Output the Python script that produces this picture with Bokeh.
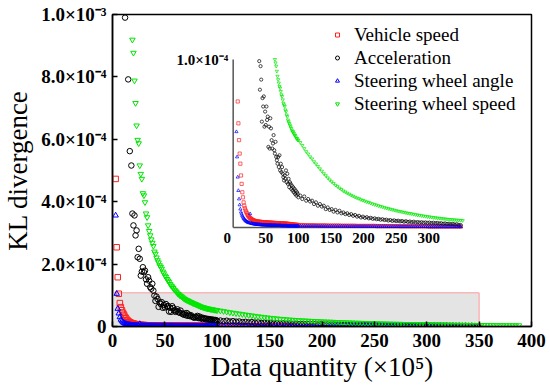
from bokeh.plotting import figure
from bokeh.models import Range1d, FixedTicker
from bokeh.core.properties import value
from bokeh.embed import file_html
from bokeh.resources import INLINE

# ---------------- data (KL divergence in units of 1e-6) ----------------
X_TICKS = [0, 50, 100, 150, 200, 250, 300, 350, 400]
Y_TICKS = [0, 0.0002, 0.0004, 0.0006, 0.0008, 0.001]
Y_TICK_LABELS = ["0", "2.0×10⁻⁴", "4.0×10⁻⁴", "6.0×10⁻⁴", "8.0×10⁻⁴", "1.0×10⁻³"]
INSET_X_TICKS = [0, 50, 100, 150, 200, 250, 300]
INSET_Y_TOP_LABEL = "1.0×10⁻⁴"
SERIES = ["Vehicle speed", "Acceleration", "Steering wheel angle", "Steering wheel speed"]

# Vehicle speed: x = 3..100 step 1, then 103.. step 3
speed_head = [473, 254, 158, 105, 75, 62, 52, 44, 38, 31,
              26, 21, 18, 15, 13, 11.5, 10.2, 9.4, 8.5, 7.6,
              7.1, 6.5, 6.0, 5.7, 5.3, 5.0, 4.8, 4.5, 4.3, 4.2,
              4.0, 3.9, 3.8, 3.7, 3.6, 3.6, 3.5, 3.5, 3.4, 3.4,
              3.3, 3.3, 3.3, 3.2, 3.2, 3.2, 3.1, 3.1, 3.1, 3.0,
              3.0, 3.0, 3.0, 2.9, 2.9, 2.9, 2.9, 2.8, 2.8, 2.8,
              2.8, 2.7, 2.7, 2.7, 2.7, 2.6, 2.6, 2.6, 2.6, 2.6,
              2.5, 2.5, 2.5, 2.5, 2.4, 2.4, 2.4, 2.4, 2.3, 2.3,
              2.3, 2.2, 2.2, 2.1, 2.1, 2.0, 2.0, 1.9, 1.9, 1.8,
              1.8, 1.7, 1.7, 1.7, 1.6, 1.6, 1.6, 1.5]
speed_tail = [1.5, 1.5, 1.5, 1.4, 1.4, 1.4, 1.4, 1.4, 1.3, 1.3,
              1.3, 1.3, 1.3, 1.3, 1.2, 1.2, 1.2, 1.2, 1.2, 1.2,
              1.2, 1.1, 1.1, 1.1, 1.1, 1.1, 1.1, 1.1, 1.1, 1.0,
              1.0, 1.0, 1.0, 1.0, 1.0, 1.0, 1.0, 1.0, 1.0, 0.9,
              0.9, 0.9, 0.9, 0.9, 0.9, 0.9, 0.9, 0.9, 0.9, 0.9,
              0.9, 0.8, 0.8, 0.8, 0.8, 0.8, 0.8, 0.8, 0.8, 0.8,
              0.8, 0.8, 0.8, 0.8, 0.8, 0.8, 0.7, 0.7, 0.7, 0.7,
              0.7, 0.7, 0.7, 0.7, 0.7, 0.7, 0.7, 0.7, 0.7, 0.7,
              0.7, 0.7, 0.7]

# Acceleration: first points at irregular x, then 19..100 step 1, then 103.. step 3
accel_first_x = [12, 15, 16.5, 18]
accel_first = [990, 792, 562, 516]
accel_head = [362, 324, 356, 292, 308, 222, 249, 217, 163, 176,
              190, 174, 179, 151, 137, 158, 147, 126, 121, 137,
              115, 99, 82, 96, 88, 63, 77, 72, 78, 60,
              69, 61, 72, 64, 66, 48, 60, 47, 65, 59,
              52, 47, 50, 55, 46, 44, 51, 42, 40, 38,
              42, 36, 43, 34, 38, 33, 36, 32, 30, 28,
              31, 29, 34, 27, 32, 26, 29, 24, 27, 26,
              23, 25, 22, 24, 21, 23, 20, 22, 19, 21,
              20, 18]
accel_tail = [19, 17, 18.5, 16, 17, 15.5, 16, 14, 15, 13,
              14, 12.5, 13, 11, 12, 10.5, 11, 9.5, 10.5, 9,
              10, 8.5, 9, 8, 8.5, 7.5, 8, 7, 7.5, 6.5,
              7, 6, 6.5, 5.8, 6.2, 5.5, 5.8, 5.2, 5.5, 5,
              5.2, 4.7, 5, 4.5, 4.7, 4.2, 4.5, 4, 4.3, 3.9,
              4.1, 3.7, 3.9, 3.5, 3.8, 3.4, 3.6, 3.2, 3.5, 3.1,
              3.3, 3, 3.2, 2.9, 3.1, 2.8, 3, 2.7, 2.9, 2.6,
              2.8, 2.5, 2.6, 2.3, 2.5, 2.2, 2.3, 2, 2.2, 1.8,
              2, 1.6, 1.5]

# Steering wheel angle: x = 3..100 step 1, then 103.. step 3
angle_head = [356, 105, 57, 42, 30, 22, 17, 13.5, 11, 9.2,
              8.0, 7.0, 6.2, 5.5, 5.0, 4.5, 4.1, 3.8, 3.5, 3.3,
              3.1, 2.9, 2.8, 8.2, 2.6, 2.5, 2.4, 2.3, 2.2, 2.2,
              2.1, 2.0, 2.0, 1.9, 1.9, 1.8, 1.8, 1.8, 1.7, 1.7,
              1.7, 1.6, 1.6, 1.6, 1.6, 1.5, 1.5, 1.5, 1.5, 1.5,
              1.4, 1.4, 1.4, 1.4, 1.4, 1.4, 1.3, 1.3, 1.3, 1.3,
              1.3, 1.3, 1.3, 1.2, 1.2, 1.2, 1.2, 1.2, 1.2, 1.2,
              1.2, 1.1, 1.1, 1.1, 1.1, 1.1, 1.1, 1.1, 1.1, 1.1,
              1.0, 1.0, 1.0, 1.0, 1.0, 1.0, 1.0, 1.0, 1.0, 1.0,
              1.0, 0.9, 0.9, 0.9, 0.9, 0.9, 0.9, 0.9]
angle_tail = [0.9, 0.9, 0.9, 0.9, 0.9, 0.9, 0.9, 0.9, 0.9, 0.9,
              0.8, 0.8, 0.8, 0.8, 0.8, 0.8, 0.8, 0.8, 0.8, 0.8,
              0.8, 0.8, 0.8, 0.8, 0.8, 0.7, 0.7, 0.7, 0.7, 0.7,
              0.7, 0.7, 0.7, 0.7, 0.7, 0.7, 0.7, 0.7, 0.7, 0.7,
              0.7, 0.7, 0.7, 0.7, 0.7, 0.6, 0.6, 0.6, 0.6, 0.6,
              0.6, 0.6, 0.6, 0.6, 0.6, 0.6, 0.6, 0.6, 0.6, 0.6,
              0.6, 0.6, 0.6, 0.6, 0.6, 0.5, 0.5, 0.5, 0.5, 0.5,
              0.5, 0.5, 0.5, 0.5, 0.5, 0.5, 0.5, 0.5, 0.5, 0.5,
              0.5, 0.5, 0.5]

# Steering wheel speed: x = 19..100 step 1, then 103.. step 3
wspeed_head = [919, 877, 788, 716, 644, 598, 587, 516, 489, 473,
               427, 420, 398, 362, 350, 324, 306, 292, 279, 268,
               258, 240, 233, 221, 212, 205, 196, 191, 185, 176,
               170, 163, 159, 152, 147, 143, 136, 131, 128, 123,
               118, 115, 111, 106, 104, 100, 98, 96, 93, 90,
               88, 86, 84, 83, 81, 79, 78, 76, 74, 73,
               72, 70, 69, 67, 66, 64, 63, 62, 61, 60,
               59, 58, 57, 57, 56, 55, 55, 54, 53, 53,
               52, 52]
wspeed_tail = [50.6, 48.9, 47.0, 45.2, 43.8, 42.1, 40.9, 39.2, 37.9, 36.4,
               35.0, 33.6, 32.1, 30.9, 29.6, 28.4, 27.3, 26.3, 25.2, 24.4,
               23.5, 22.7, 21.8, 21.2, 20.5, 19.9, 19.2, 18.7, 18.1, 17.6,
               17.2, 16.6, 16.2, 15.8, 15.3, 15.0, 14.5, 14.1, 13.7, 13.4,
               13.0, 12.6, 12.3, 11.9, 11.6, 11.3, 11.0, 10.7, 10.4, 10.1,
               9.8, 9.6, 9.3, 9.1, 8.8, 8.6, 8.4, 8.2, 7.9, 7.7,
               7.5, 7.3, 7.1, 6.9, 6.7, 6.5, 6.4, 6.2, 6.0, 5.9,
               5.7, 5.6, 5.4, 5.3, 5.2, 5.0, 4.9, 4.8, 4.7, 4.6,
               4.5, 4.4, 4.3, 4.2, 4.1, 4.0, 4.0, 3.9, 3.8, 3.8,
               3.7, 3.7, 3.6, 3.6, 3.5, 3.5]

ZOOM_BOX = (0, 350, 0, 108e-6)          # left, right, bottom, top of the grey box
INSET_X_SRC = (0, 352)
INSET_Y_SRC = (0, 100e-6)
INSET_X_TGT = (115.2, 334.3)            # inset placement in main data coords
INSET_Y_TGT = (3.17e-4, 8.56e-4)


def grid(start, step, n):
    return [start + step * i for i in range(n)]


def scale(vals):
    return [v * 1e-6 for v in vals]


speed_x = grid(3, 1, len(speed_head)) + grid(103, 3, len(speed_tail))
speed_y = scale(speed_head + speed_tail)
accel_x = accel_first_x + grid(19, 1, len(accel_head)) + grid(103, 3, len(accel_tail))
accel_y = scale(accel_first + accel_head + accel_tail)
angle_x = grid(3, 1, len(angle_head)) + grid(103, 3, len(angle_tail))
angle_y = scale(angle_head + angle_tail)
wspeed_x = grid(19, 1, len(wspeed_head)) + grid(103, 3, len(wspeed_tail))
wspeed_y = scale(wspeed_head + wspeed_tail)

STYLES = [
    ("square", "#ff2020", speed_x, speed_y),
    ("circle", "#000000", accel_x, accel_y),
    ("triangle", "#0000ff", angle_x, angle_y),
    ("inverted_triangle", "#00e600", wspeed_x, wspeed_y),
]

FONT = "Liberation Serif"

p = figure(width=550, height=387, output_backend="svg", toolbar_location=None,
           x_range=Range1d(0, 400), y_range=Range1d(0, 1e-3),
           min_border_left=111, min_border_right=19, min_border_top=14, min_border_bottom=61)
p.background_fill_color = "white"
p.border_fill_color = "white"
p.outline_line_color = "black"
p.outline_line_width = 1.5
p.xgrid.visible = False
p.ygrid.visible = False

p.xaxis.ticker = FixedTicker(ticks=X_TICKS, minor_ticks=[])
p.yaxis.ticker = FixedTicker(ticks=Y_TICKS, minor_ticks=[])
p.yaxis.major_label_overrides = dict(zip(Y_TICKS, Y_TICK_LABELS))
p.xaxis.major_label_overrides = {t: str(t) for t in X_TICKS}
for ax in (p.xaxis, p.yaxis):
    ax.major_tick_in = 5
    ax.major_tick_out = 0
    ax.minor_tick_in = 0
    ax.minor_tick_out = 0
    ax.axis_line_width = 1.5
    ax.major_tick_line_width = 1.5
    ax.major_label_text_font = FONT
    ax.major_label_text_font_style = "bold"
    ax.major_label_text_font_size = "19px"
    ax.major_label_text_color = "black"
    ax.axis_label_text_font = FONT
    ax.axis_label_text_font_style = "normal"
    ax.axis_label_text_font_size = "27px"
    ax.axis_label_text_color = "black"
p.xaxis.axis_label = "Data quantity (×10⁵)"
p.yaxis.axis_label = "KL divergence"
p.xaxis.major_label_standoff = 7
p.yaxis.major_label_standoff = 6
p.xaxis.axis_label_standoff = 2
p.yaxis.axis_label_standoff = 5

p.quad(left=[ZOOM_BOX[0]], right=[ZOOM_BOX[1]], bottom=[ZOOM_BOX[2]], top=[ZOOM_BOX[3]],
       fill_color="#e4e4e4", line_color="#ff9a9a", line_width=1)

for name, (marker, color, xs, ys) in zip(SERIES, STYLES):
    p.scatter(xs, ys, marker=marker, size=5.5, fill_color=None, line_color=color,
              line_width=1, legend_label=name)

# ---------------- inset ----------------
inset = p.subplot(x_source=Range1d(*INSET_X_SRC), y_source=Range1d(*INSET_Y_SRC),
                  x_target=Range1d(*INSET_X_TGT), y_target=Range1d(*INSET_Y_TGT))

inset.segment(x0=[INSET_X_SRC[0], INSET_X_SRC[0]], y0=[INSET_Y_SRC[0], INSET_Y_SRC[0]],
              x1=[INSET_X_SRC[0], INSET_X_SRC[1]], y1=[INSET_Y_SRC[1], INSET_Y_SRC[0]],
              line_color="#555555", line_width=1.5)

for marker, color, xs, ys in STYLES:
    sx = [x for x, y in zip(xs, ys) if x <= INSET_X_SRC[1] and y <= INSET_Y_SRC[1]]
    sy = [y for x, y in zip(xs, ys) if x <= INSET_X_SRC[1] and y <= INSET_Y_SRC[1]]
    inset.scatter(sx, sy, marker=marker, size=3.2, fill_color=None, line_color=color,
                  line_width=0.7)

inset.text(x=INSET_X_TICKS, y=[INSET_Y_SRC[0]] * len(INSET_X_TICKS),
           text=[str(t) for t in INSET_X_TICKS],
           x_offset=[-6] + [0] * (len(INSET_X_TICKS) - 1), y_offset=5,
           text_align="center", text_baseline="top",
           text_font=value(FONT), text_font_style="bold", text_font_size="15px",
           text_color="black")
inset.text(x=[INSET_X_SRC[0]], y=[INSET_Y_SRC[1]], text=[INSET_Y_TOP_LABEL],
           x_offset=-5, y_offset=1, text_align="right", text_baseline="middle",
           text_font=value(FONT), text_font_style="bold", text_font_size="15px",
           text_color="black")

# ---------------- legend ----------------
lg = p.legend[0]
lg.location = (220, 211)
lg.border_line_color = None
lg.background_fill_alpha = 0
lg.padding = 0
lg.margin = 0
lg.spacing = 0
lg.glyph_width = 10
lg.glyph_height = 23
lg.label_height = 23
lg.label_standoff = 12
lg.label_text_font = FONT
lg.label_text_font_size = "19px"
lg.label_text_color = "black"

open("out.html", "w").write(file_html(p, INLINE))
